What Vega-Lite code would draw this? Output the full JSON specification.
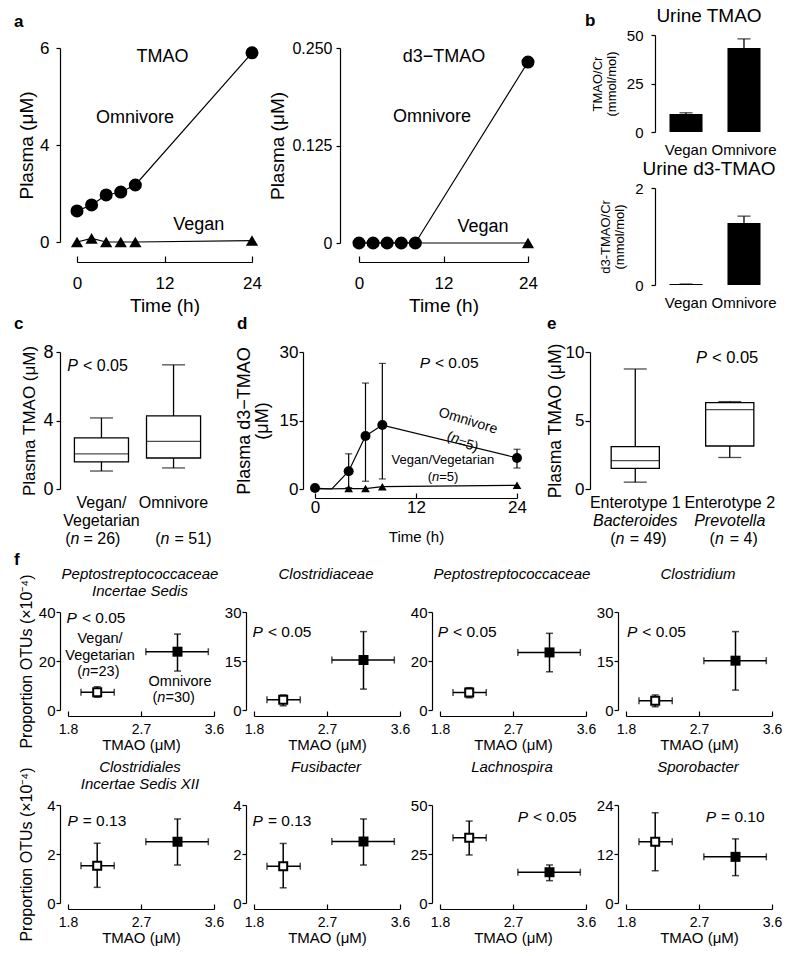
{
  "$schema": "https://vega.github.io/schema/vega-lite/v6.json",
  "background": "white",
  "padding": {"left": 14, "top": 7, "right": 4, "bottom": 4},
  "config": {
    "font": "Liberation Sans",
    "view": {"stroke": null},
    "axis": {"grid": false, "domainColor": "black", "tickColor": "black", "labelColor": "black", "titleColor": "black", "domainWidth": 1.2, "tickWidth": 1.2, "titleFontWeight": "normal", "labelFlush": false, "labelOverlap": false},
    "axisY": {"tickSize": 4},
    "axisX": {"tickSize": -5},
    "title": {"color": "black", "fontWeight": "normal", "anchor": "middle", "frame": "group"},
    "text": {"color": "black"},
    "rule": {"color": "black"},
    "tick": {"color": "black"},
    "line": {"color": "black"}
  },
  "spacing": 2,
  "vconcat": [
    {
      "spacing": 0,
      "vconcat": [
        {
          "spacing": 20,
          "bounds": "flush",
          "hconcat": [
            {
              "width": 260, "height": 227,
              "title": {"text": "a", "anchor": "start", "dx": -46, "fontSize": 17, "fontWeight": "bold", "offset": 4},
              "data": {"values": [
                {"group": "Omnivore", "t": 0, "v": 1.28},
                {"group": "Omnivore", "t": 2, "v": 1.53},
                {"group": "Omnivore", "t": 4, "v": 1.94},
                {"group": "Omnivore", "t": 6, "v": 2.06},
                {"group": "Omnivore", "t": 8, "v": 2.35},
                {"group": "Omnivore", "t": 24, "v": 5.9},
                {"group": "Vegan", "t": 0, "v": 0.0},
                {"group": "Vegan", "t": 2, "v": 0.15},
                {"group": "Vegan", "t": 4, "v": 0.0},
                {"group": "Vegan", "t": 6, "v": 0.0},
                {"group": "Vegan", "t": 8, "v": 0.0},
                {"group": "Vegan", "t": 24, "v": 0.06}
              ]},
              "layer": [
                {"mark": {"type": "line", "strokeWidth": 1.2}, "encoding": {
                  "x": {"field": "t", "type": "quantitative", "scale": {"domain": [0, 24], "range": [17, 192], "nice": false}, "axis": {"values": [0, 12, 24], "title": "Time (h)", "tickSize": -6, "labelFontSize": 17, "titleFontSize": 19, "labelPadding": 19, "titlePadding": 5}},
                  "y": {"field": "v", "type": "quantitative", "scale": {"domain": [0, 4, 6], "range": [207, 110, 13], "nice": false, "zero": false}, "axis": {"values": [0, 4, 6], "title": "Plasma (μM)", "labelFontSize": 17, "labelPadding": 7, "titleFontSize": 19, "titlePadding": 3}},
                  "detail": {"field": "group", "type": "nominal"}}},
                {"transform": [{"filter": "datum.group == 'Vegan'"}], "mark": {"type": "point", "shape": "triangle-up", "filled": true, "color": "black", "size": 150, "opacity": 1}, "encoding": {"x": {"field": "t", "type": "quantitative"}, "y": {"field": "v", "type": "quantitative"}}},
                {"transform": [{"filter": "datum.group == 'Omnivore'"}], "mark": {"type": "circle", "color": "black", "size": 170, "opacity": 1}, "encoding": {"x": {"field": "t", "type": "quantitative"}, "y": {"field": "v", "type": "quantitative"}}},
                {"data": {"values": [{}]}, "mark": {"type": "text", "text": "TMAO", "fontSize": 18, "baseline": "middle"}, "encoding": {"x": {"datum": 11.73}, "y": {"datum": 5.82}}},
                {"data": {"values": [{}]}, "mark": {"type": "text", "text": "Omnivore", "fontSize": 18, "baseline": "middle"}, "encoding": {"x": {"datum": 7.96}, "y": {"datum": 4.56}}},
                {"data": {"values": [{}]}, "mark": {"type": "text", "text": "Vegan", "fontSize": 18, "baseline": "middle"}, "encoding": {"x": {"datum": 16.7}, "y": {"datum": 0.72}}}
              ]
            },
            {
              "width": 295, "height": 227,
              "data": {"values": [
                {"group": "Vegan", "t": 0, "v": 0},
                {"group": "Vegan", "t": 2, "v": 0},
                {"group": "Vegan", "t": 4, "v": 0},
                {"group": "Vegan", "t": 6, "v": 0},
                {"group": "Vegan", "t": 8, "v": 0},
                {"group": "Vegan", "t": 24, "v": 0},
                {"group": "Omnivore", "t": 0, "v": 0},
                {"group": "Omnivore", "t": 2, "v": 0},
                {"group": "Omnivore", "t": 4, "v": 0},
                {"group": "Omnivore", "t": 6, "v": 0},
                {"group": "Omnivore", "t": 8, "v": 0},
                {"group": "Omnivore", "t": 24, "v": 0.232}
              ]},
              "layer": [
                {"mark": {"type": "line", "strokeWidth": 1.2}, "encoding": {
                  "x": {"field": "t", "type": "quantitative", "scale": {"domain": [0, 24], "range": [19, 188], "nice": false}, "axis": {"values": [0, 12, 24], "title": "Time (h)", "tickSize": -6, "labelFontSize": 17, "titleFontSize": 19, "labelPadding": 19, "titlePadding": 5}},
                  "y": {"field": "v", "type": "quantitative", "scale": {"domain": [0, 0.25], "range": [208, 13], "nice": false}, "axis": {"values": [0, 0.125, 0.25], "labelExpr": "datum.value == 0 ? '0' : format(datum.value, '.3f')", "title": "Plasma (μM)", "labelFontSize": 16, "labelPadding": 4, "titleFontSize": 19, "titlePadding": 4}},
                  "detail": {"field": "group", "type": "nominal"}}},
                {"transform": [{"filter": "datum.group == 'Vegan' && datum.t == 24"}], "mark": {"type": "point", "shape": "triangle-up", "filled": true, "color": "black", "size": 150, "opacity": 1}, "encoding": {"x": {"field": "t", "type": "quantitative"}, "y": {"field": "v", "type": "quantitative"}}},
                {"transform": [{"filter": "datum.group == 'Omnivore'"}], "mark": {"type": "circle", "color": "black", "size": 170, "opacity": 1}, "encoding": {"x": {"field": "t", "type": "quantitative"}, "y": {"field": "v", "type": "quantitative"}}},
                {"data": {"values": [{}]}, "mark": {"type": "text", "text": "d3−TMAO", "fontSize": 18, "baseline": "middle"}, "encoding": {"x": {"datum": 12.07}, "y": {"datum": 0.238}}},
                {"data": {"values": [{}]}, "mark": {"type": "text", "text": "Omnivore", "fontSize": 18, "baseline": "middle"}, "encoding": {"x": {"datum": 10.37}, "y": {"datum": 0.161}}},
                {"data": {"values": [{}]}, "mark": {"type": "text", "text": "Vegan", "fontSize": 18, "baseline": "middle"}, "encoding": {"x": {"datum": 17.6}, "y": {"datum": 0.021}}}
              ]
            },
            {
              "spacing": 56,
              "bounds": "flush",
              "title": {"text": "b", "anchor": "start", "dx": -70, "dy": 23, "fontSize": 17, "fontWeight": "bold", "offset": 0},
              "vconcat": [
                {
                  "width": 120, "height": 97,
                  "title": {"text": "Urine TMAO", "fontSize": 19, "dx": -6, "offset": 2},
                  "data": {"values": [
                    {"g": "Vegan", "v": 9.3, "hi": 9.9},
                    {"g": "Omnivore", "v": 43.3, "hi": 48}
                  ]},
                  "layer": [
                    {"mark": {"type": "bar", "color": "black"}, "encoding": {
                      "x": {"field": "g", "type": "nominal", "scale": {"domain": ["Vegan", "Omnivore"], "paddingInner": 0.43, "paddingOuter": 0.25}, "axis": {"title": null, "domain": false, "ticks": false, "labelAngle": 0, "labelFontSize": 15, "labelPadding": 10}},
                      "y": {"field": "v", "type": "quantitative", "scale": {"domain": [0, 50], "nice": false}, "axis": {"values": [0, 25, 50], "format": "d", "title": ["TMAO/Cr", "(mmol/mol)"], "titleFontSize": 13, "titleLineHeight": 14, "labelFontSize": 15, "labelPadding": 8, "titlePadding": 8}}}},
                    {"mark": {"type": "rule", "strokeWidth": 1.3}, "encoding": {"x": {"field": "g", "type": "nominal"}, "y": {"field": "v", "type": "quantitative"}, "y2": {"field": "hi"}}},
                    {"mark": {"type": "tick", "orient": "horizontal", "size": 13, "thickness": 1.3}, "encoding": {"x": {"field": "g", "type": "nominal"}, "y": {"field": "hi", "type": "quantitative"}}}
                  ]
                },
                {
                  "width": 120, "height": 97,
                  "title": {"text": "Urine d3-TMAO", "fontSize": 19, "dx": -6, "offset": 2},
                  "data": {"values": [
                    {"g": "Vegan", "v": 0.02, "hi": 0.02},
                    {"g": "Omnivore", "v": 1.28, "hi": 1.42}
                  ]},
                  "layer": [
                    {"mark": {"type": "bar", "color": "black"}, "encoding": {
                      "x": {"field": "g", "type": "nominal", "scale": {"domain": ["Vegan", "Omnivore"], "paddingInner": 0.43, "paddingOuter": 0.25}, "axis": {"title": null, "domain": false, "ticks": false, "labelAngle": 0, "labelFontSize": 15, "labelPadding": 10}},
                      "y": {"field": "v", "type": "quantitative", "scale": {"domain": [0, 2], "nice": false}, "axis": {"values": [0, 1, 2], "format": "d", "title": ["d3-TMAO/Cr", "(mmol/mol)"], "titleFontSize": 13, "titleLineHeight": 14, "labelFontSize": 15, "labelPadding": 8, "titlePadding": 8}}}},
                    {"mark": {"type": "rule", "strokeWidth": 1.3}, "encoding": {"x": {"field": "g", "type": "nominal"}, "y": {"field": "v", "type": "quantitative"}, "y2": {"field": "hi"}}},
                    {"mark": {"type": "tick", "orient": "horizontal", "size": 13, "thickness": 1.3}, "encoding": {"x": {"field": "g", "type": "nominal"}, "y": {"field": "hi", "type": "quantitative"}}}
                  ]
                }
              ]
            }
          ]
        },
        {
          "spacing": 88,
          "bounds": "flush",
          "hconcat": [
            {
              "width": 155, "height": 137,
              "title": {"text": "c", "anchor": "start", "dx": -46, "fontSize": 17, "fontWeight": "bold", "offset": 10},
              "data": {"values": [
                {"g": "Vegan/Vegetarian", "lo": 1.05, "q1": 1.58, "med": 2.05, "q3": 2.98, "hi": 4.15},
                {"g": "Omnivore", "lo": 1.23, "q1": 1.81, "med": 2.78, "q3": 4.27, "hi": 7.25}
              ]},
              "layer": [
                {"mark": {"type": "rule", "strokeWidth": 1.3}, "encoding": {
                  "x": {"field": "g", "type": "nominal", "scale": {"domain": ["Vegan/Vegetarian", "Omnivore"], "paddingInner": 0.25, "paddingOuter": 0.2}, "axis": null},
                  "y": {"field": "lo", "type": "quantitative", "scale": {"domain": [0, 8], "nice": false}, "axis": {"values": [0, 4, 8], "title": "Plasma TMAO (μM)", "labelFontSize": 18, "labelPadding": 3, "titleFontSize": 17, "titlePadding": 4}},
                  "y2": {"field": "hi"}}},
                {"mark": {"type": "bar", "fill": "white", "stroke": "black", "strokeWidth": 1.3}, "encoding": {"x": {"field": "g", "type": "nominal"}, "y": {"field": "q1", "type": "quantitative"}, "y2": {"field": "q3"}}},
                {"mark": {"type": "tick", "orient": "horizontal", "size": 54, "thickness": 1.3}, "encoding": {"x": {"field": "g", "type": "nominal"}, "y": {"field": "med", "type": "quantitative"}}},
                {"transform": [{"fold": ["lo", "hi"], "as": ["k", "cap"]}], "mark": {"type": "tick", "orient": "horizontal", "size": 23, "thickness": 1.3}, "encoding": {"x": {"field": "g", "type": "nominal"}, "y": {"field": "cap", "type": "quantitative"}}},
                {"data": {"values": [{}]}, "mark": {"type": "text", "text": "P", "fontStyle": "italic", "fontSize": 16, "align": "right", "baseline": "middle", "dx": -23.5}, "encoding": {"x": {"datum": "Vegan/Vegetarian"}, "y": {"datum": 7.18}}},
                {"data": {"values": [{}]}, "mark": {"type": "text", "text": "< 0.05", "fontSize": 16, "align": "left", "baseline": "middle", "dx": -18.5}, "encoding": {"x": {"datum": "Vegan/Vegetarian"}, "y": {"datum": 7.18}}},
                {"data": {"values": [{}]}, "mark": {"type": "text", "text": "Vegan/", "fontSize": 16, "baseline": "middle"}, "encoding": {"x": {"datum": "Vegan/Vegetarian"}, "y": {"datum": -0.82}}},
                {"data": {"values": [{}]}, "mark": {"type": "text", "text": "Vegetarian", "fontSize": 16, "baseline": "middle"}, "encoding": {"x": {"datum": "Vegan/Vegetarian"}, "y": {"datum": -1.87}}},
                {"data": {"values": [{}]}, "mark": {"type": "text", "text": "(", "fontSize": 16, "align": "right", "baseline": "middle", "dx": -31}, "encoding": {"x": {"datum": "Vegan/Vegetarian"}, "y": {"datum": -2.92}}},
                {"data": {"values": [{}]}, "mark": {"type": "text", "text": "n", "fontStyle": "italic", "fontSize": 16, "align": "left", "baseline": "middle", "dx": -31}, "encoding": {"x": {"datum": "Vegan/Vegetarian"}, "y": {"datum": -2.92}}},
                {"data": {"values": [{}]}, "mark": {"type": "text", "text": "= 26)", "fontSize": 16, "align": "left", "baseline": "middle", "dx": -18}, "encoding": {"x": {"datum": "Vegan/Vegetarian"}, "y": {"datum": -2.92}}},
                {"data": {"values": [{}]}, "mark": {"type": "text", "text": "Omnivore", "fontSize": 16, "baseline": "middle"}, "encoding": {"x": {"datum": "Omnivore"}, "y": {"datum": -0.82}}},
                {"data": {"values": [{}]}, "mark": {"type": "text", "text": "(", "fontSize": 16, "align": "right", "baseline": "middle", "dx": -13}, "encoding": {"x": {"datum": "Omnivore"}, "y": {"datum": -2.92}}},
                {"data": {"values": [{}]}, "mark": {"type": "text", "text": "n", "fontStyle": "italic", "fontSize": 16, "align": "left", "baseline": "middle", "dx": -13}, "encoding": {"x": {"datum": "Omnivore"}, "y": {"datum": -2.92}}},
                {"data": {"values": [{}]}, "mark": {"type": "text", "text": "= 51)", "fontSize": 16, "align": "left", "baseline": "middle", "dx": 1}, "encoding": {"x": {"datum": "Omnivore"}, "y": {"datum": -2.92}}}
              ]
            },
            {
              "width": 199, "height": 137,
              "title": {"text": "d", "anchor": "start", "dx": -66, "fontSize": 17, "fontWeight": "bold", "offset": 10},
              "data": {"values": [
                {"group": "Vegan/Vegetarian", "t": 0, "v": 0},
                {"group": "Vegan/Vegetarian", "t": 4, "v": 0.1},
                {"group": "Vegan/Vegetarian", "t": 6, "v": 0.1},
                {"group": "Vegan/Vegetarian", "t": 8, "v": 0.5},
                {"group": "Vegan/Vegetarian", "t": 24, "v": 0.8},
                {"group": "Omnivore", "t": 0, "v": 0.2},
                {"group": "Omnivore", "t": 2, "v": 0},
                {"group": "Omnivore", "t": 4, "v": 3.9, "lo": 0.3, "hi": 7.7},
                {"group": "Omnivore", "t": 6, "v": 11.6, "lo": 1.7, "hi": 23.2},
                {"group": "Omnivore", "t": 8, "v": 14.0, "lo": 2.2, "hi": 27.5},
                {"group": "Omnivore", "t": 24, "v": 6.8, "lo": 4.6, "hi": 8.7}
              ]},
              "layer": [
                {"mark": {"type": "line", "strokeWidth": 1.2}, "encoding": {
                  "x": {"field": "t", "type": "quantitative", "scale": {"domain": [0, 24], "range": [12, 214], "nice": false}, "axis": {"values": [0, 12, 24], "title": "Time (h)", "offset": 9, "labelFontSize": 17, "titleFontSize": 15, "labelPadding": 6, "titlePadding": 14}},
                  "y": {"field": "v", "type": "quantitative", "scale": {"domain": [0, 30], "nice": false}, "axis": {"values": [0, 15, 30], "title": ["Plasma d3−TMAO", "(μM)"], "titleLineHeight": 18, "labelFontSize": 17, "labelPadding": 1, "titleFontSize": 18, "titlePadding": 8}},
                  "detail": {"field": "group", "type": "nominal"}}},
                {"transform": [{"filter": "isValid(datum.lo)"}], "mark": {"type": "rule", "strokeWidth": 1.2}, "encoding": {"x": {"field": "t", "type": "quantitative"}, "y": {"field": "lo", "type": "quantitative"}, "y2": {"field": "hi"}}},
                {"transform": [{"filter": "isValid(datum.lo)"}, {"fold": ["lo", "hi"], "as": ["k", "cap"]}], "mark": {"type": "tick", "orient": "horizontal", "size": 7, "thickness": 1.2}, "encoding": {"x": {"field": "t", "type": "quantitative"}, "y": {"field": "cap", "type": "quantitative"}}},
                {"transform": [{"filter": "datum.group == 'Vegan/Vegetarian' && datum.t > 0"}], "mark": {"type": "point", "shape": "triangle-up", "filled": true, "color": "black", "size": 75, "opacity": 1}, "encoding": {"x": {"field": "t", "type": "quantitative"}, "y": {"field": "v", "type": "quantitative"}}},
                {"transform": [{"filter": "datum.group == 'Omnivore' && datum.t != 2"}], "mark": {"type": "circle", "color": "black", "size": 100, "opacity": 1}, "encoding": {"x": {"field": "t", "type": "quantitative"}, "y": {"field": "v", "type": "quantitative"}}},
                {"data": {"values": [{}]}, "mark": {"type": "text", "text": "P", "fontStyle": "italic", "fontSize": 15.5, "align": "right", "baseline": "middle"}, "encoding": {"x": {"datum": 13.66}, "y": {"datum": 27.6}}},
                {"data": {"values": [{}]}, "mark": {"type": "text", "text": "< 0.05", "fontSize": 15.5, "align": "left", "baseline": "middle", "dx": 5}, "encoding": {"x": {"datum": 13.66}, "y": {"datum": 27.6}}},
                {"data": {"values": [{}]}, "mark": {"type": "text", "text": "Omnivore", "fontSize": 14, "angle": 17, "baseline": "middle"}, "encoding": {"x": {"datum": 18.18}, "y": {"datum": 14.89}}},
                {"data": {"values": [{}]}, "mark": {"type": "text", "text": "(", "fontSize": 14, "angle": 17, "align": "right", "baseline": "middle"}, "encoding": {"x": {"datum": 16.23}, "y": {"datum": 11.28}}},
                {"data": {"values": [{}]}, "mark": {"type": "text", "text": "n", "fontStyle": "italic", "fontSize": 14, "angle": 17, "align": "left", "baseline": "middle"}, "encoding": {"x": {"datum": 16.23}, "y": {"datum": 11.28}}},
                {"data": {"values": [{}]}, "mark": {"type": "text", "text": "=5)", "fontSize": 14, "angle": 17, "align": "left", "baseline": "middle", "dx": 7.5, "dy": 2.3}, "encoding": {"x": {"datum": 16.23}, "y": {"datum": 11.28}}},
                {"data": {"values": [{}]}, "mark": {"type": "text", "text": "Vegan/Vegetarian", "fontSize": 13, "baseline": "middle"}, "encoding": {"x": {"datum": 15.2}, "y": {"datum": 6.35}}},
                {"data": {"values": [{}]}, "mark": {"type": "text", "text": "(", "fontSize": 13, "align": "right", "baseline": "middle"}, "encoding": {"x": {"datum": 13.9}, "y": {"datum": 2.63}}},
                {"data": {"values": [{}]}, "mark": {"type": "text", "text": "n", "fontStyle": "italic", "fontSize": 13, "align": "left", "baseline": "middle"}, "encoding": {"x": {"datum": 13.9}, "y": {"datum": 2.63}}},
                {"data": {"values": [{}]}, "mark": {"type": "text", "text": "=5)", "fontSize": 13, "align": "left", "baseline": "middle", "dx": 7.2}, "encoding": {"x": {"datum": 13.9}, "y": {"datum": 2.63}}}
              ]
            },
            {
              "width": 185, "height": 137,
              "title": {"text": "e", "anchor": "start", "dx": -43, "fontSize": 17, "fontWeight": "bold", "offset": 10},
              "data": {"values": [
                {"g": "Enterotype 1", "lo": 0.5, "q1": 1.5, "med": 2.07, "q3": 3.1, "hi": 8.76},
                {"g": "Enterotype 2", "lo": 2.3, "q1": 3.14, "med": 5.8, "q3": 6.3, "hi": 6.38}
              ]},
              "layer": [
                {"mark": {"type": "rule", "strokeWidth": 1.3}, "encoding": {
                  "x": {"field": "g", "type": "nominal", "scale": {"domain": ["Enterotype 1", "Enterotype 2"], "paddingInner": 0.49, "paddingOuter": 0.224}, "axis": null},
                  "y": {"field": "lo", "type": "quantitative", "scale": {"domain": [0, 10], "nice": false}, "axis": {"values": [0, 5, 10], "title": "Plasma TMAO (μM)", "tickSize": 5, "labelFontSize": 17, "labelPadding": 1, "titleFontSize": 17.5, "titlePadding": 1}},
                  "y2": {"field": "hi"}}},
                {"mark": {"type": "bar", "fill": "white", "stroke": "black", "strokeWidth": 1.3}, "encoding": {"x": {"field": "g", "type": "nominal"}, "y": {"field": "q1", "type": "quantitative"}, "y2": {"field": "q3"}}},
                {"mark": {"type": "tick", "orient": "horizontal", "size": 48, "thickness": 1.3}, "encoding": {"x": {"field": "g", "type": "nominal"}, "y": {"field": "med", "type": "quantitative"}}},
                {"transform": [{"fold": ["lo", "hi"], "as": ["k", "cap"]}], "mark": {"type": "tick", "orient": "horizontal", "size": 23, "thickness": 1.3}, "encoding": {"x": {"field": "g", "type": "nominal"}, "y": {"field": "cap", "type": "quantitative"}}},
                {"data": {"values": [{}]}, "mark": {"type": "text", "text": "P", "fontStyle": "italic", "fontSize": 16.5, "align": "right", "baseline": "middle", "dx": -22.8}, "encoding": {"x": {"datum": "Enterotype 2"}, "y": {"datum": 9.56}}},
                {"data": {"values": [{}]}, "mark": {"type": "text", "text": "< 0.05", "fontSize": 16.5, "align": "left", "baseline": "middle", "dx": -17.8}, "encoding": {"x": {"datum": "Enterotype 2"}, "y": {"datum": 9.56}}},
                {"data": {"values": [{}]}, "mark": {"type": "text", "text": "Enterotype 1", "fontSize": 16, "baseline": "middle"}, "encoding": {"x": {"datum": "Enterotype 1"}, "y": {"datum": -1.02}}},
                {"data": {"values": [{}]}, "mark": {"type": "text", "text": "Bacteroides", "fontStyle": "italic", "fontSize": 16, "baseline": "middle"}, "encoding": {"x": {"datum": "Enterotype 1"}, "y": {"datum": -2.34}}},
                {"data": {"values": [{}]}, "mark": {"type": "text", "text": "(", "fontSize": 16, "align": "right", "baseline": "middle", "dx": -19.8}, "encoding": {"x": {"datum": "Enterotype 1"}, "y": {"datum": -3.65}}},
                {"data": {"values": [{}]}, "mark": {"type": "text", "text": "n", "fontStyle": "italic", "fontSize": 16, "align": "left", "baseline": "middle", "dx": -19.8}, "encoding": {"x": {"datum": "Enterotype 1"}, "y": {"datum": -3.65}}},
                {"data": {"values": [{}]}, "mark": {"type": "text", "text": "= 49)", "fontSize": 16, "align": "left", "baseline": "middle", "dx": -5.5}, "encoding": {"x": {"datum": "Enterotype 1"}, "y": {"datum": -3.65}}},
                {"data": {"values": [{}]}, "mark": {"type": "text", "text": "Enterotype 2", "fontSize": 16, "baseline": "middle"}, "encoding": {"x": {"datum": "Enterotype 2"}, "y": {"datum": -1.02}}},
                {"data": {"values": [{}]}, "mark": {"type": "text", "text": "Prevotella", "fontStyle": "italic", "fontSize": 16, "baseline": "middle"}, "encoding": {"x": {"datum": "Enterotype 2"}, "y": {"datum": -2.34}}},
                {"data": {"values": [{}]}, "mark": {"type": "text", "text": "(", "fontSize": 16, "align": "right", "baseline": "middle", "dx": -14.8}, "encoding": {"x": {"datum": "Enterotype 2"}, "y": {"datum": -3.65}}},
                {"data": {"values": [{}]}, "mark": {"type": "text", "text": "n", "fontStyle": "italic", "fontSize": 16, "align": "left", "baseline": "middle", "dx": -14.8}, "encoding": {"x": {"datum": "Enterotype 2"}, "y": {"datum": -3.65}}},
                {"data": {"values": [{}]}, "mark": {"type": "text", "text": "= 4)", "fontSize": 16, "align": "left", "baseline": "middle", "dx": 0}, "encoding": {"x": {"datum": "Enterotype 2"}, "y": {"datum": -3.65}}}
              ]
            }
          ]
        }
      ]
    },
    {
      "columns": 4,
      "spacing": {"row": 89, "column": 26},
      "bounds": "flush",
      "title": {"text": "f", "anchor": "start", "dx": -46, "fontSize": 17, "fontWeight": "bold", "offset": -2},
      "concat": [
        {
          "width": 160, "height": 104,
          "title": {"text": ["Peptostreptococcaceae", "Incertae Sedis"], "fontStyle": "italic", "fontSize": 15, "lineHeight": 17, "offset": -25},
          "data": {"values": [
            {"group": "Vegan", "x": 2.16, "xlo": 1.96, "xhi": 2.37, "y": 7.2, "ylo": 5.2, "yhi": 9.5},
            {"group": "Omnivore", "x": 3.15, "xlo": 2.76, "xhi": 3.53, "y": 23.8, "ylo": 15.9, "yhi": 31.0}
          ]},
          "layer": [
            {"mark": {"type": "rule", "strokeWidth": 1.5}, "encoding": {"x": {"field": "xlo", "type": "quantitative", "scale": {"domain": [1.8, 3.6], "range": [8, 154], "nice": false, "zero": false}, "axis": {"values": [1.8, 2.7, 3.6], "format": ".1f", "title": "TMAO (μM)", "labelFontSize": 14, "titleFontSize": 15, "labelPadding": 11, "titlePadding": 1}}, "x2": {"field": "xhi"}, "y": {"field": "y", "type": "quantitative", "scale": {"domain": [0, 40], "range": [98, 0], "nice": false}, "axis": {"values": [0, 20, 40], "title": "Proportion OTUs (×10⁻⁴)", "labelFontSize": 15, "labelPadding": 1, "titleFontSize": 16, "titlePadding": 4}}}},
            {"mark": {"type": "rule", "strokeWidth": 1.5}, "encoding": {"x": {"field": "x", "type": "quantitative"}, "y": {"field": "ylo", "type": "quantitative"}, "y2": {"field": "yhi"}}},
            {"transform": [{"fold": ["xlo", "xhi"], "as": ["k", "cx"]}], "mark": {"type": "tick", "orient": "vertical", "size": 7, "thickness": 1.5}, "encoding": {"x": {"field": "cx", "type": "quantitative"}, "y": {"field": "y", "type": "quantitative"}}},
            {"transform": [{"fold": ["ylo", "yhi"], "as": ["k", "cy"]}], "mark": {"type": "tick", "orient": "horizontal", "size": 7, "thickness": 1.5}, "encoding": {"x": {"field": "x", "type": "quantitative"}, "y": {"field": "cy", "type": "quantitative"}}},
            {"transform": [{"filter": "datum.group == 'Vegan'"}], "mark": {"type": "square", "size": 64, "fill": "white", "stroke": "black", "strokeWidth": 2, "opacity": 1}, "encoding": {"x": {"field": "x", "type": "quantitative"}, "y": {"field": "y", "type": "quantitative"}}},
            {"transform": [{"filter": "datum.group == 'Omnivore'"}], "mark": {"type": "square", "size": 100, "color": "black", "opacity": 1}, "encoding": {"x": {"field": "x", "type": "quantitative"}, "y": {"field": "y", "type": "quantitative"}}},
            {"data": {"values": [{}]}, "mark": {"type": "text", "text": "P", "fontStyle": "italic", "fontSize": 15.5, "align": "right", "baseline": "middle"}, "encoding": {"x": {"datum": 1.91}, "y": {"datum": 37.6}}},
            {"data": {"values": [{}]}, "mark": {"type": "text", "text": "< 0.05", "fontSize": 15.5, "align": "left", "baseline": "middle", "dx": 5}, "encoding": {"x": {"datum": 1.91}, "y": {"datum": 37.6}}},
            {"data": {"values": [{}]}, "mark": {"type": "text", "text": "Vegan/", "fontSize": 14.5, "baseline": "middle"}, "encoding": {"x": {"datum": 2.195}, "y": {"datum": 29.0}}},
            {"data": {"values": [{}]}, "mark": {"type": "text", "text": "Vegetarian", "fontSize": 14.5, "baseline": "middle"}, "encoding": {"x": {"datum": 2.195}, "y": {"datum": 22.0}}},
            {"data": {"values": [{}]}, "mark": {"type": "text", "text": "(", "fontSize": 14.5, "align": "right", "baseline": "middle", "dx": -18}, "encoding": {"x": {"datum": 2.195}, "y": {"datum": 15.5}}},
            {"data": {"values": [{}]}, "mark": {"type": "text", "text": "n", "fontStyle": "italic", "fontSize": 14.5, "align": "left", "baseline": "middle", "dx": -18}, "encoding": {"x": {"datum": 2.195}, "y": {"datum": 15.5}}},
            {"data": {"values": [{}]}, "mark": {"type": "text", "text": "=23)", "fontSize": 14.5, "align": "left", "baseline": "middle", "dx": -10}, "encoding": {"x": {"datum": 2.195}, "y": {"datum": 15.5}}},
            {"data": {"values": [{}]}, "mark": {"type": "text", "text": "Omnivore", "fontSize": 14.5, "baseline": "middle"}, "encoding": {"x": {"datum": 3.181}, "y": {"datum": 11.4}}},
            {"data": {"values": [{}]}, "mark": {"type": "text", "text": "(", "fontSize": 14.5, "align": "right", "baseline": "middle", "dx": -22.7}, "encoding": {"x": {"datum": 3.181}, "y": {"datum": 4.9}}},
            {"data": {"values": [{}]}, "mark": {"type": "text", "text": "n", "fontStyle": "italic", "fontSize": 14.5, "align": "left", "baseline": "middle", "dx": -22.7}, "encoding": {"x": {"datum": 3.181}, "y": {"datum": 4.9}}},
            {"data": {"values": [{}]}, "mark": {"type": "text", "text": "=30)", "fontSize": 14.5, "align": "left", "baseline": "middle", "dx": -14.6}, "encoding": {"x": {"datum": 3.181}, "y": {"datum": 4.9}}}
          ]
        },
        {
          "width": 160, "height": 104,
          "title": {"text": ["Clostridiaceae", " "], "fontStyle": "italic", "fontSize": 15, "lineHeight": 17, "offset": 6},
          "data": {"values": [
            {"group": "Vegan", "x": 2.16, "xlo": 1.96, "xhi": 2.37, "y": 3.1, "ylo": 1.3, "yhi": 4.6},
            {"group": "Omnivore", "x": 3.15, "xlo": 2.76, "xhi": 3.53, "y": 15.3, "ylo": 6.4, "yhi": 24.0}
          ]},
          "layer": [
            {"mark": {"type": "rule", "strokeWidth": 1.5}, "encoding": {"x": {"field": "xlo", "type": "quantitative", "scale": {"domain": [1.8, 3.6], "range": [8, 154], "nice": false, "zero": false}, "axis": {"values": [1.8, 2.7, 3.6], "format": ".1f", "title": "TMAO (μM)", "labelFontSize": 14, "titleFontSize": 15, "labelPadding": 11, "titlePadding": 1}}, "x2": {"field": "xhi"}, "y": {"field": "y", "type": "quantitative", "scale": {"domain": [0, 30], "range": [98, 0], "nice": false}, "axis": {"values": [0, 15, 30], "title": null, "labelFontSize": 15, "labelPadding": 1}}}},
            {"mark": {"type": "rule", "strokeWidth": 1.5}, "encoding": {"x": {"field": "x", "type": "quantitative"}, "y": {"field": "ylo", "type": "quantitative"}, "y2": {"field": "yhi"}}},
            {"transform": [{"fold": ["xlo", "xhi"], "as": ["k", "cx"]}], "mark": {"type": "tick", "orient": "vertical", "size": 7, "thickness": 1.5}, "encoding": {"x": {"field": "cx", "type": "quantitative"}, "y": {"field": "y", "type": "quantitative"}}},
            {"transform": [{"fold": ["ylo", "yhi"], "as": ["k", "cy"]}], "mark": {"type": "tick", "orient": "horizontal", "size": 7, "thickness": 1.5}, "encoding": {"x": {"field": "x", "type": "quantitative"}, "y": {"field": "cy", "type": "quantitative"}}},
            {"transform": [{"filter": "datum.group == 'Vegan'"}], "mark": {"type": "square", "size": 64, "fill": "white", "stroke": "black", "strokeWidth": 2, "opacity": 1}, "encoding": {"x": {"field": "x", "type": "quantitative"}, "y": {"field": "y", "type": "quantitative"}}},
            {"transform": [{"filter": "datum.group == 'Omnivore'"}], "mark": {"type": "square", "size": 100, "color": "black", "opacity": 1}, "encoding": {"x": {"field": "x", "type": "quantitative"}, "y": {"field": "y", "type": "quantitative"}}},
            {"data": {"values": [{}]}, "mark": {"type": "text", "text": "P", "fontStyle": "italic", "fontSize": 15.5, "align": "right", "baseline": "middle"}, "encoding": {"x": {"datum": 1.91}, "y": {"datum": 23.9}}},
            {"data": {"values": [{}]}, "mark": {"type": "text", "text": "< 0.05", "fontSize": 15.5, "align": "left", "baseline": "middle", "dx": 5}, "encoding": {"x": {"datum": 1.91}, "y": {"datum": 23.9}}}
          ]
        },
        {
          "width": 160, "height": 104,
          "title": {"text": ["Peptostreptococcaceae", " "], "fontStyle": "italic", "fontSize": 15, "lineHeight": 17, "offset": 6},
          "data": {"values": [
            {"group": "Vegan", "x": 2.16, "xlo": 1.96, "xhi": 2.37, "y": 7.1, "ylo": 5.0, "yhi": 9.1},
            {"group": "Omnivore", "x": 3.15, "xlo": 2.76, "xhi": 3.53, "y": 23.5, "ylo": 15.6, "yhi": 31.3}
          ]},
          "layer": [
            {"mark": {"type": "rule", "strokeWidth": 1.5}, "encoding": {"x": {"field": "xlo", "type": "quantitative", "scale": {"domain": [1.8, 3.6], "range": [8, 154], "nice": false, "zero": false}, "axis": {"values": [1.8, 2.7, 3.6], "format": ".1f", "title": "TMAO (μM)", "labelFontSize": 14, "titleFontSize": 15, "labelPadding": 11, "titlePadding": 1}}, "x2": {"field": "xhi"}, "y": {"field": "y", "type": "quantitative", "scale": {"domain": [0, 40], "range": [98, 0], "nice": false}, "axis": {"values": [0, 20, 40], "title": null, "labelFontSize": 15, "labelPadding": 1}}}},
            {"mark": {"type": "rule", "strokeWidth": 1.5}, "encoding": {"x": {"field": "x", "type": "quantitative"}, "y": {"field": "ylo", "type": "quantitative"}, "y2": {"field": "yhi"}}},
            {"transform": [{"fold": ["xlo", "xhi"], "as": ["k", "cx"]}], "mark": {"type": "tick", "orient": "vertical", "size": 7, "thickness": 1.5}, "encoding": {"x": {"field": "cx", "type": "quantitative"}, "y": {"field": "y", "type": "quantitative"}}},
            {"transform": [{"fold": ["ylo", "yhi"], "as": ["k", "cy"]}], "mark": {"type": "tick", "orient": "horizontal", "size": 7, "thickness": 1.5}, "encoding": {"x": {"field": "x", "type": "quantitative"}, "y": {"field": "cy", "type": "quantitative"}}},
            {"transform": [{"filter": "datum.group == 'Vegan'"}], "mark": {"type": "square", "size": 64, "fill": "white", "stroke": "black", "strokeWidth": 2, "opacity": 1}, "encoding": {"x": {"field": "x", "type": "quantitative"}, "y": {"field": "y", "type": "quantitative"}}},
            {"transform": [{"filter": "datum.group == 'Omnivore'"}], "mark": {"type": "square", "size": 100, "color": "black", "opacity": 1}, "encoding": {"x": {"field": "x", "type": "quantitative"}, "y": {"field": "y", "type": "quantitative"}}},
            {"data": {"values": [{}]}, "mark": {"type": "text", "text": "P", "fontStyle": "italic", "fontSize": 15.5, "align": "right", "baseline": "middle"}, "encoding": {"x": {"datum": 1.90}, "y": {"datum": 31.8}}},
            {"data": {"values": [{}]}, "mark": {"type": "text", "text": "< 0.05", "fontSize": 15.5, "align": "left", "baseline": "middle", "dx": 5}, "encoding": {"x": {"datum": 1.90}, "y": {"datum": 31.8}}}
          ]
        },
        {
          "width": 160, "height": 104,
          "title": {"text": ["Clostridium", " "], "fontStyle": "italic", "fontSize": 15, "lineHeight": 17, "offset": 6},
          "data": {"values": [
            {"group": "Vegan", "x": 2.16, "xlo": 1.96, "xhi": 2.37, "y": 2.85, "ylo": 1.0, "yhi": 4.6},
            {"group": "Omnivore", "x": 3.15, "xlo": 2.76, "xhi": 3.53, "y": 15.1, "ylo": 6.1, "yhi": 24.0}
          ]},
          "layer": [
            {"mark": {"type": "rule", "strokeWidth": 1.5}, "encoding": {"x": {"field": "xlo", "type": "quantitative", "scale": {"domain": [1.8, 3.6], "range": [8, 154], "nice": false, "zero": false}, "axis": {"values": [1.8, 2.7, 3.6], "format": ".1f", "title": "TMAO (μM)", "labelFontSize": 14, "titleFontSize": 15, "labelPadding": 11, "titlePadding": 1}}, "x2": {"field": "xhi"}, "y": {"field": "y", "type": "quantitative", "scale": {"domain": [0, 30], "range": [98, 0], "nice": false}, "axis": {"values": [0, 15, 30], "title": null, "labelFontSize": 15, "labelPadding": 1}}}},
            {"mark": {"type": "rule", "strokeWidth": 1.5}, "encoding": {"x": {"field": "x", "type": "quantitative"}, "y": {"field": "ylo", "type": "quantitative"}, "y2": {"field": "yhi"}}},
            {"transform": [{"fold": ["xlo", "xhi"], "as": ["k", "cx"]}], "mark": {"type": "tick", "orient": "vertical", "size": 7, "thickness": 1.5}, "encoding": {"x": {"field": "cx", "type": "quantitative"}, "y": {"field": "y", "type": "quantitative"}}},
            {"transform": [{"fold": ["ylo", "yhi"], "as": ["k", "cy"]}], "mark": {"type": "tick", "orient": "horizontal", "size": 7, "thickness": 1.5}, "encoding": {"x": {"field": "x", "type": "quantitative"}, "y": {"field": "cy", "type": "quantitative"}}},
            {"transform": [{"filter": "datum.group == 'Vegan'"}], "mark": {"type": "square", "size": 64, "fill": "white", "stroke": "black", "strokeWidth": 2, "opacity": 1}, "encoding": {"x": {"field": "x", "type": "quantitative"}, "y": {"field": "y", "type": "quantitative"}}},
            {"transform": [{"filter": "datum.group == 'Omnivore'"}], "mark": {"type": "square", "size": 100, "color": "black", "opacity": 1}, "encoding": {"x": {"field": "x", "type": "quantitative"}, "y": {"field": "y", "type": "quantitative"}}},
            {"data": {"values": [{}]}, "mark": {"type": "text", "text": "P", "fontStyle": "italic", "fontSize": 15.5, "align": "right", "baseline": "middle"}, "encoding": {"x": {"datum": 1.94}, "y": {"datum": 23.9}}},
            {"data": {"values": [{}]}, "mark": {"type": "text", "text": "< 0.05", "fontSize": 15.5, "align": "left", "baseline": "middle", "dx": 5}, "encoding": {"x": {"datum": 1.94}, "y": {"datum": 23.9}}}
          ]
        },
        {
          "width": 160, "height": 104,
          "title": {"text": ["Clostridiales", "Incertae Sedis XII"], "fontStyle": "italic", "fontSize": 15, "lineHeight": 17, "offset": -25},
          "data": {"values": [
            {"group": "Vegan", "x": 2.16, "xlo": 1.96, "xhi": 2.37, "y": 1.52, "ylo": 0.64, "yhi": 2.44},
            {"group": "Omnivore", "x": 3.15, "xlo": 2.76, "xhi": 3.53, "y": 2.5, "ylo": 1.55, "yhi": 3.43}
          ]},
          "layer": [
            {"mark": {"type": "rule", "strokeWidth": 1.5}, "encoding": {"x": {"field": "xlo", "type": "quantitative", "scale": {"domain": [1.8, 3.6], "range": [8, 154], "nice": false, "zero": false}, "axis": {"values": [1.8, 2.7, 3.6], "format": ".1f", "title": "TMAO (μM)", "labelFontSize": 14, "titleFontSize": 15, "labelPadding": 11, "titlePadding": 1}}, "x2": {"field": "xhi"}, "y": {"field": "y", "type": "quantitative", "scale": {"domain": [0, 4], "range": [98, 0], "nice": false}, "axis": {"values": [0, 2, 4], "title": "Proportion OTUs (×10⁻⁴)", "labelFontSize": 15, "labelPadding": 1, "titleFontSize": 16, "titlePadding": 12}}}},
            {"mark": {"type": "rule", "strokeWidth": 1.5}, "encoding": {"x": {"field": "x", "type": "quantitative"}, "y": {"field": "ylo", "type": "quantitative"}, "y2": {"field": "yhi"}}},
            {"transform": [{"fold": ["xlo", "xhi"], "as": ["k", "cx"]}], "mark": {"type": "tick", "orient": "vertical", "size": 7, "thickness": 1.5}, "encoding": {"x": {"field": "cx", "type": "quantitative"}, "y": {"field": "y", "type": "quantitative"}}},
            {"transform": [{"fold": ["ylo", "yhi"], "as": ["k", "cy"]}], "mark": {"type": "tick", "orient": "horizontal", "size": 7, "thickness": 1.5}, "encoding": {"x": {"field": "x", "type": "quantitative"}, "y": {"field": "cy", "type": "quantitative"}}},
            {"transform": [{"filter": "datum.group == 'Vegan'"}], "mark": {"type": "square", "size": 64, "fill": "white", "stroke": "black", "strokeWidth": 2, "opacity": 1}, "encoding": {"x": {"field": "x", "type": "quantitative"}, "y": {"field": "y", "type": "quantitative"}}},
            {"transform": [{"filter": "datum.group == 'Omnivore'"}], "mark": {"type": "square", "size": 100, "color": "black", "opacity": 1}, "encoding": {"x": {"field": "x", "type": "quantitative"}, "y": {"field": "y", "type": "quantitative"}}},
            {"data": {"values": [{}]}, "mark": {"type": "text", "text": "P", "fontStyle": "italic", "fontSize": 15.5, "align": "right", "baseline": "middle"}, "encoding": {"x": {"datum": 1.92}, "y": {"datum": 3.33}}},
            {"data": {"values": [{}]}, "mark": {"type": "text", "text": "= 0.13", "fontSize": 15.5, "align": "left", "baseline": "middle", "dx": 5}, "encoding": {"x": {"datum": 1.92}, "y": {"datum": 3.33}}}
          ]
        },
        {
          "width": 160, "height": 104,
          "title": {"text": ["Fusibacter", " "], "fontStyle": "italic", "fontSize": 15, "lineHeight": 17, "offset": 6},
          "data": {"values": [
            {"group": "Vegan", "x": 2.16, "xlo": 1.96, "xhi": 2.37, "y": 1.5, "ylo": 0.62, "yhi": 2.43},
            {"group": "Omnivore", "x": 3.15, "xlo": 2.76, "xhi": 3.53, "y": 2.51, "ylo": 1.55, "yhi": 3.43}
          ]},
          "layer": [
            {"mark": {"type": "rule", "strokeWidth": 1.5}, "encoding": {"x": {"field": "xlo", "type": "quantitative", "scale": {"domain": [1.8, 3.6], "range": [8, 154], "nice": false, "zero": false}, "axis": {"values": [1.8, 2.7, 3.6], "format": ".1f", "title": "TMAO (μM)", "labelFontSize": 14, "titleFontSize": 15, "labelPadding": 11, "titlePadding": 1}}, "x2": {"field": "xhi"}, "y": {"field": "y", "type": "quantitative", "scale": {"domain": [0, 4], "range": [98, 0], "nice": false}, "axis": {"values": [0, 2, 4], "title": null, "labelFontSize": 15, "labelPadding": 1}}}},
            {"mark": {"type": "rule", "strokeWidth": 1.5}, "encoding": {"x": {"field": "x", "type": "quantitative"}, "y": {"field": "ylo", "type": "quantitative"}, "y2": {"field": "yhi"}}},
            {"transform": [{"fold": ["xlo", "xhi"], "as": ["k", "cx"]}], "mark": {"type": "tick", "orient": "vertical", "size": 7, "thickness": 1.5}, "encoding": {"x": {"field": "cx", "type": "quantitative"}, "y": {"field": "y", "type": "quantitative"}}},
            {"transform": [{"fold": ["ylo", "yhi"], "as": ["k", "cy"]}], "mark": {"type": "tick", "orient": "horizontal", "size": 7, "thickness": 1.5}, "encoding": {"x": {"field": "x", "type": "quantitative"}, "y": {"field": "cy", "type": "quantitative"}}},
            {"transform": [{"filter": "datum.group == 'Vegan'"}], "mark": {"type": "square", "size": 64, "fill": "white", "stroke": "black", "strokeWidth": 2, "opacity": 1}, "encoding": {"x": {"field": "x", "type": "quantitative"}, "y": {"field": "y", "type": "quantitative"}}},
            {"transform": [{"filter": "datum.group == 'Omnivore'"}], "mark": {"type": "square", "size": 100, "color": "black", "opacity": 1}, "encoding": {"x": {"field": "x", "type": "quantitative"}, "y": {"field": "y", "type": "quantitative"}}},
            {"data": {"values": [{}]}, "mark": {"type": "text", "text": "P", "fontStyle": "italic", "fontSize": 15.5, "align": "right", "baseline": "middle"}, "encoding": {"x": {"datum": 1.91}, "y": {"datum": 3.33}}},
            {"data": {"values": [{}]}, "mark": {"type": "text", "text": "= 0.13", "fontSize": 15.5, "align": "left", "baseline": "middle", "dx": 5}, "encoding": {"x": {"datum": 1.91}, "y": {"datum": 3.33}}}
          ]
        },
        {
          "width": 160, "height": 104,
          "title": {"text": ["Lachnospira", " "], "fontStyle": "italic", "fontSize": 15, "lineHeight": 17, "offset": 6},
          "data": {"values": [
            {"group": "Vegan", "x": 2.16, "xlo": 1.96, "xhi": 2.37, "y": 33.3, "ylo": 24.5, "yhi": 41.8},
            {"group": "Omnivore", "x": 3.15, "xlo": 2.76, "xhi": 3.53, "y": 15.7, "ylo": 11.4, "yhi": 19.4}
          ]},
          "layer": [
            {"mark": {"type": "rule", "strokeWidth": 1.5}, "encoding": {"x": {"field": "xlo", "type": "quantitative", "scale": {"domain": [1.8, 3.6], "range": [8, 154], "nice": false, "zero": false}, "axis": {"values": [1.8, 2.7, 3.6], "format": ".1f", "title": "TMAO (μM)", "labelFontSize": 14, "titleFontSize": 15, "labelPadding": 11, "titlePadding": 1}}, "x2": {"field": "xhi"}, "y": {"field": "y", "type": "quantitative", "scale": {"domain": [0, 50], "range": [98, 0], "nice": false}, "axis": {"values": [0, 25, 50], "title": null, "labelFontSize": 15, "labelPadding": 1}}}},
            {"mark": {"type": "rule", "strokeWidth": 1.5}, "encoding": {"x": {"field": "x", "type": "quantitative"}, "y": {"field": "ylo", "type": "quantitative"}, "y2": {"field": "yhi"}}},
            {"transform": [{"fold": ["xlo", "xhi"], "as": ["k", "cx"]}], "mark": {"type": "tick", "orient": "vertical", "size": 7, "thickness": 1.5}, "encoding": {"x": {"field": "cx", "type": "quantitative"}, "y": {"field": "y", "type": "quantitative"}}},
            {"transform": [{"fold": ["ylo", "yhi"], "as": ["k", "cy"]}], "mark": {"type": "tick", "orient": "horizontal", "size": 7, "thickness": 1.5}, "encoding": {"x": {"field": "x", "type": "quantitative"}, "y": {"field": "cy", "type": "quantitative"}}},
            {"transform": [{"filter": "datum.group == 'Vegan'"}], "mark": {"type": "square", "size": 64, "fill": "white", "stroke": "black", "strokeWidth": 2, "opacity": 1}, "encoding": {"x": {"field": "x", "type": "quantitative"}, "y": {"field": "y", "type": "quantitative"}}},
            {"transform": [{"filter": "datum.group == 'Omnivore'"}], "mark": {"type": "square", "size": 100, "color": "black", "opacity": 1}, "encoding": {"x": {"field": "x", "type": "quantitative"}, "y": {"field": "y", "type": "quantitative"}}},
            {"data": {"values": [{}]}, "mark": {"type": "text", "text": "P", "fontStyle": "italic", "fontSize": 15.5, "align": "right", "baseline": "middle"}, "encoding": {"x": {"datum": 2.885}, "y": {"datum": 43.9}}},
            {"data": {"values": [{}]}, "mark": {"type": "text", "text": "< 0.05", "fontSize": 15.5, "align": "left", "baseline": "middle", "dx": 5}, "encoding": {"x": {"datum": 2.885}, "y": {"datum": 43.9}}}
          ]
        },
        {
          "width": 160, "height": 104,
          "title": {"text": ["Sporobacter", " "], "fontStyle": "italic", "fontSize": 15, "lineHeight": 17, "offset": 6},
          "data": {"values": [
            {"group": "Vegan", "x": 2.16, "xlo": 1.96, "xhi": 2.37, "y": 15.0, "ylo": 7.9, "yhi": 22.1},
            {"group": "Omnivore", "x": 3.15, "xlo": 2.76, "xhi": 3.53, "y": 11.3, "ylo": 6.7, "yhi": 15.7}
          ]},
          "layer": [
            {"mark": {"type": "rule", "strokeWidth": 1.5}, "encoding": {"x": {"field": "xlo", "type": "quantitative", "scale": {"domain": [1.8, 3.6], "range": [8, 154], "nice": false, "zero": false}, "axis": {"values": [1.8, 2.7, 3.6], "format": ".1f", "title": "TMAO (μM)", "labelFontSize": 14, "titleFontSize": 15, "labelPadding": 11, "titlePadding": 1}}, "x2": {"field": "xhi"}, "y": {"field": "y", "type": "quantitative", "scale": {"domain": [0, 24], "range": [98, 0], "nice": false}, "axis": {"values": [0, 12, 24], "title": null, "labelFontSize": 15, "labelPadding": 1}}}},
            {"mark": {"type": "rule", "strokeWidth": 1.5}, "encoding": {"x": {"field": "x", "type": "quantitative"}, "y": {"field": "ylo", "type": "quantitative"}, "y2": {"field": "yhi"}}},
            {"transform": [{"fold": ["xlo", "xhi"], "as": ["k", "cx"]}], "mark": {"type": "tick", "orient": "vertical", "size": 7, "thickness": 1.5}, "encoding": {"x": {"field": "cx", "type": "quantitative"}, "y": {"field": "y", "type": "quantitative"}}},
            {"transform": [{"fold": ["ylo", "yhi"], "as": ["k", "cy"]}], "mark": {"type": "tick", "orient": "horizontal", "size": 7, "thickness": 1.5}, "encoding": {"x": {"field": "x", "type": "quantitative"}, "y": {"field": "cy", "type": "quantitative"}}},
            {"transform": [{"filter": "datum.group == 'Vegan'"}], "mark": {"type": "square", "size": 64, "fill": "white", "stroke": "black", "strokeWidth": 2, "opacity": 1}, "encoding": {"x": {"field": "x", "type": "quantitative"}, "y": {"field": "y", "type": "quantitative"}}},
            {"transform": [{"filter": "datum.group == 'Omnivore'"}], "mark": {"type": "square", "size": 100, "color": "black", "opacity": 1}, "encoding": {"x": {"field": "x", "type": "quantitative"}, "y": {"field": "y", "type": "quantitative"}}},
            {"data": {"values": [{}]}, "mark": {"type": "text", "text": "P", "fontStyle": "italic", "fontSize": 15.5, "align": "right", "baseline": "middle"}, "encoding": {"x": {"datum": 2.91}, "y": {"datum": 21.1}}},
            {"data": {"values": [{}]}, "mark": {"type": "text", "text": "= 0.10", "fontSize": 15.5, "align": "left", "baseline": "middle", "dx": 5}, "encoding": {"x": {"datum": 2.91}, "y": {"datum": 21.1}}}
          ]
        }
      ]
    }
  ]
}
